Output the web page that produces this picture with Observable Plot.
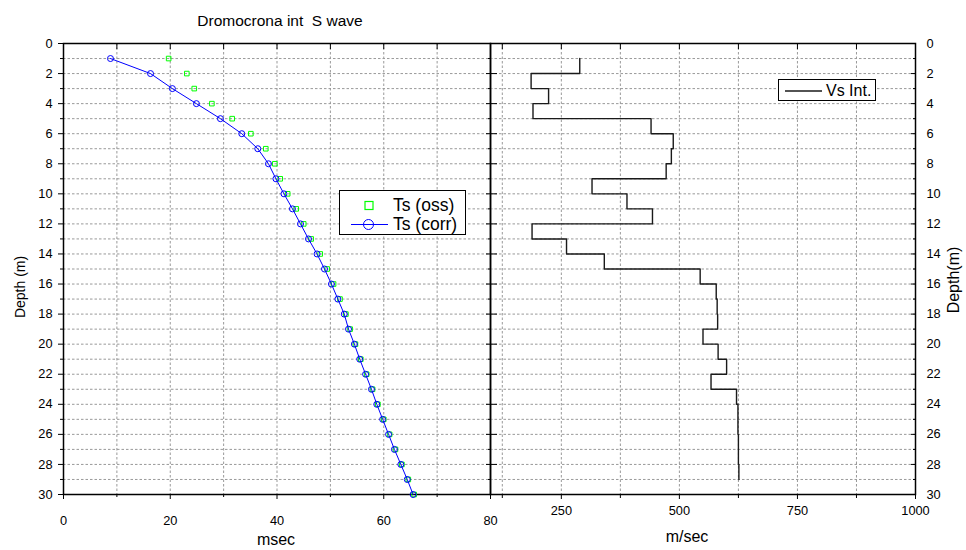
<!DOCTYPE html>
<html><head><meta charset="utf-8">
<script src="https://cdn.jsdelivr.net/npm/d3@7"></script>
<script src="https://cdn.jsdelivr.net/npm/@observablehq/plot@0.6"></script>
<style>
body{margin:0;background:#fff;font-family:"Liberation Sans",Arial,sans-serif;color:#000;}
#wrap{position:relative;width:966px;height:550px;overflow:hidden;background:#fff;}
#wrap svg{position:absolute;top:0;max-width:none;background:none;}
.lbl{position:absolute;white-space:pre;line-height:1;}
.legend{position:absolute;background:#fff;border:1px solid #000;box-sizing:border-box;}
</style></head><body><div id="wrap"></div>
<script>
// ---- data ----
const depth  = [1,2,3,4,5,6,7,8,9,10,11,12,13,14,15,16,17,18,19,20,21,22,23,24,25,26,27,28,29,30];
const tsOss  = [19.7,23.1,24.5,27.8,31.6,35.1,37.9,39.6,40.6,42.0,43.6,45.0,46.4,48.1,49.4,50.6,51.8,52.9,53.7,54.7,55.7,56.8,57.9,58.9,60.0,61.1,62.2,63.4,64.6,65.7];
const tsCorr = [8.8,16.3,20.4,24.9,29.4,33.4,36.4,38.4,39.8,41.3,42.9,44.4,45.9,47.5,48.9,50.2,51.4,52.6,53.4,54.5,55.5,56.6,57.7,58.7,59.8,60.9,62.0,63.2,64.4,65.5];
const layerTop    = [1,2,3,4,5,6,7,8,9,10,11,12,13,14,15,16,17,18,19,20,21,22,23,24,25,26,27,28];
const layerBottom = [2,3,4,5,6,7,8,9,10,11,12,13,14,15,16,17,18,19,20,21,22,23,24,25,26,27,28,29];
const vsInt       = [289,186,223,190,440,487,483,472,315,389,443,188,261,341,544,578,580,581,550,582,600,567,621,624,624,625,625,626];
// ticks
const depthMajor = [0,2,4,6,8,10,12,14,16,18,20,22,24,26,28,30];
const depthMinor = [1,3,5,7,9,11,13,15,17,19,21,23,25,27,29];
const depthGrid  = [1,2,3,4,5,6,7,8,9,10,11,12,13,14,15,16,17,18,19,20,21,22,23,24,25,26,27,28,29];
const msecMajor = [0,20,40,60,80];
const msecMinor = [10,30,50,70];
const msecGrid  = [10,20,30,40,50,60,70];
const velMajor = [250,500,750,1000];
const velMinor = [125,375,625,875];
const velGrid  = [125,250,375,500,625,750,875];

const ts = depth.map((d,i) => ({d, oss: tsOss[i], corr: tsCorr[i]}));
const vsPath = layerTop.flatMap((t,i) => [{v: vsInt[i], d: t}, {v: vsInt[i], d: layerBottom[i]}]);

const fmt = d => String(d);
const blank = () => "";
const gridStyle = {stroke: "#999", strokeOpacity: 1, strokeWidth: 1, strokeDasharray: "2.5,2"};
const baseStyle = {background: "none", fontFamily: "'Liberation Sans', Arial, sans-serif", fontSize: "12.8px", color: "#000", overflow: "visible"};

const leftPlot = Plot.plot({
  width: 500, height: 550,
  marginLeft: 63, marginRight: 10, marginTop: 43, marginBottom: 56,
  style: baseStyle,
  x: {domain: [0, 80]},
  y: {domain: [0, 30], reverse: true},
  marks: [
    Plot.gridX(msecGrid, gridStyle),
    Plot.gridY(depthGrid, gridStyle),
    Plot.axisY(depthMajor, {anchor: "left", tickSize: 5, tickPadding: 6, tickFormat: fmt, label: null}),
    Plot.axisY(depthMinor, {anchor: "left", tickSize: 3, tickFormat: blank, label: null}),
    Plot.axisY(depthMajor, {anchor: "right", tickSize: -5, tickFormat: blank, label: null}),
    Plot.axisY(depthMinor, {anchor: "right", tickSize: -3, tickFormat: blank, label: null}),
    Plot.axisX(msecMajor, {anchor: "bottom", tickSize: 5, tickPadding: 16, tickFormat: fmt, label: null}),
    Plot.axisX(msecMinor, {anchor: "bottom", tickSize: 3, tickFormat: blank, label: null}),
    Plot.axisX(msecMajor, {anchor: "top", tickSize: -5, tickFormat: blank, label: null}),
    Plot.axisX(msecMinor, {anchor: "top", tickSize: -5, tickFormat: blank, label: null}),
    Plot.frame({stroke: "#000", strokeWidth: 1.5}),
    Plot.dot(ts, {x: "oss", y: "d", symbol: "square", r: 2.6, stroke: "#00ff00", strokeWidth: 1, fill: "none"}),
    Plot.line(ts, {x: "corr", y: "d", stroke: "#0000ff", strokeWidth: 1}),
    Plot.dot(ts, {x: "corr", y: "d", r: 3, stroke: "#0000ff", strokeWidth: 1, fill: "none"})
  ]
});

const rightPlot = Plot.plot({
  width: 486, height: 550,
  marginLeft: 10, marginRight: 51, marginTop: 43, marginBottom: 56,
  style: baseStyle,
  x: {domain: [100, 1000]},
  y: {domain: [0, 30], reverse: true},
  marks: [
    Plot.gridX(velGrid, gridStyle),
    Plot.gridY(depthGrid, gridStyle),
    Plot.axisY(depthMajor, {anchor: "right", tickSize: -5, tickPadding: 16, tickFormat: fmt, label: null}),
    Plot.axisY(depthMinor, {anchor: "right", tickSize: -3, tickFormat: blank, label: null}),
    Plot.axisY(depthMajor, {anchor: "left", tickSize: -7, tickFormat: blank, label: null}),
    Plot.axisX(velMajor, {anchor: "bottom", tickSize: 5, tickPadding: 6, tickFormat: fmt, label: null}),
    Plot.axisX(velMinor, {anchor: "bottom", tickSize: 4, tickFormat: blank, label: null}),
    Plot.axisX(velMajor, {anchor: "top", tickSize: -5, tickFormat: blank, label: null}),
    Plot.axisX(velMinor, {anchor: "top", tickSize: -5, tickFormat: blank, label: null}),
    Plot.frame({stroke: "#000", strokeWidth: 1.5}),
    Plot.line(vsPath, {x: "v", y: "d", stroke: "#1a1a1a", strokeWidth: 1.4})
  ]
});

const wrap = document.getElementById("wrap");
leftPlot.style.left = "0px";
rightPlot.style.left = "480px";
wrap.appendChild(leftPlot);
wrap.appendChild(rightPlot);

function label(text, x, y, size, rotate) {
  const el = document.createElement("div");
  el.className = "lbl";
  el.textContent = text;
  el.style.left = x + "px";
  el.style.top = y + "px";
  el.style.fontSize = size + "px";
  el.style.transform = "translate(-50%,-50%)" + (rotate ? " rotate(-90deg)" : "");
  wrap.appendChild(el);
}
label("Dromocrona int  S wave", 280, 21, 15.5);
label("msec", 276, 540, 16);
label("m/sec", 687, 537, 16);
label("Depth (m)", 20, 287, 14, true);
label("Depth(m)", 954, 280, 16, true);

// legend left
const lg = document.createElement("div");
lg.className = "legend";
Object.assign(lg.style, {left: "339px", top: "190px", width: "127px", height: "45px"});
lg.innerHTML = `
<svg width="125" height="43" style="position:absolute;left:0;top:0">
  <rect x="25" y="10.5" width="8" height="8" fill="none" stroke="#00ff00" stroke-width="1.2"/>
  <line x1="11" y1="33.5" x2="48" y2="33.5" stroke="#0000ff" stroke-width="1"/>
  <circle cx="28.5" cy="33.5" r="5" fill="none" stroke="#0000ff" stroke-width="1"/>
</svg>
<div class="lbl" style="left:53px;top:6px;font-size:17.5px">Ts (oss)</div>
<div class="lbl" style="left:53px;top:25px;font-size:17.5px">Ts (corr)</div>`;
wrap.appendChild(lg);

// legend right
const lg2 = document.createElement("div");
lg2.className = "legend";
Object.assign(lg2.style, {left: "778px", top: "79px", width: "98px", height: "22px"});
lg2.innerHTML = `
<svg width="96" height="20" style="position:absolute;left:0;top:0">
  <line x1="6" y1="11" x2="43" y2="11" stroke="#1a1a1a" stroke-width="1.4"/>
</svg>
<div class="lbl" style="left:47px;top:3px;font-size:16px">Vs Int.</div>`;
wrap.appendChild(lg2);
</script>
</body></html>
